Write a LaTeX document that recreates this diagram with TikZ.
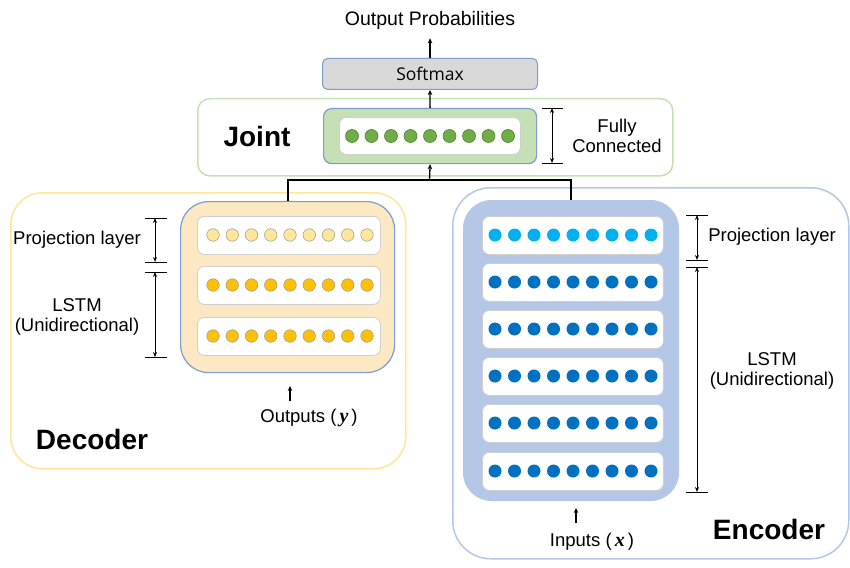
\documentclass[tikz,border=0pt]{standalone}
\usepackage{fontspec}
\setmainfont{Liberation Sans}
\newfontfamily\softfont{Open Sans}
\newfontfamily\varfont{Liberation Serif}
\usetikzlibrary{arrows.meta}
\definecolor{softfill}{HTML}{D9D9D9}
\definecolor{innerbd}{HTML}{7F9CCB}
\definecolor{jointbd}{HTML}{C5E0B4}
\definecolor{jointfill}{HTML}{C5E0B4}
\definecolor{greendot}{HTML}{70AD47}
\definecolor{greenbd}{HTML}{507E32}
\definecolor{decbd}{HTML}{FFE699}
\definecolor{decfill}{HTML}{FCE8C3}
\definecolor{declight}{HTML}{FFE699}
\definecolor{decdark}{HTML}{FFC000}
\definecolor{encbd}{HTML}{B4C7E7}
\definecolor{encfill}{HTML}{B4C7E7}
\definecolor{enclight}{HTML}{00B0F0}
\definecolor{encdark}{HTML}{0070C0}
\definecolor{rowbd}{HTML}{D0CECE}
\begin{document}
\begin{tikzpicture}[x=1pt,y=-1pt,
  font=\fontsize{18.5}{21.5}\selectfont,
  boxnw/.style={anchor=north west, inner sep=0pt},
  rowbox/.style={boxnw, draw=rowbd, fill=white, line width=0.8pt, rounded corners=7pt},
  dotnode/.style={circle, inner sep=0pt},
  arr/.style={line width=1.3pt, -{Stealth[length=5pt,width=4.5pt]}},
  dim/.style={line width=0.8pt, {Stealth[length=5pt,width=4pt]}-{Stealth[length=5pt,width=4pt]}},
  tick/.style={line width=0.8pt},
  lbl/.style={inner sep=0pt, align=center},
  big/.style={inner sep=0pt, font=\bfseries\fontsize{28}{32}\selectfont}]
\useasboundingbox (0,0) rectangle (850,567);

% ---- top ----
\node[lbl, font=\fontsize{19.5}{22}\selectfont] (outp) at (430,20) {Output Probabilities};
\node[boxnw, draw=innerbd, fill=softfill, line width=1pt, rounded corners=5pt,
  minimum width=215pt, minimum height=31pt, font=\softfont\fontsize{17.5}{20}\selectfont] (soft) at (322,58) {Softmax};

% ---- joint ----
\node[boxnw, draw=jointbd, line width=1.5pt, rounded corners=12pt, minimum width=475pt, minimum height=77pt] (jointbox) at (197,98) {};
\node[boxnw, draw=innerbd, fill=jointfill, line width=1.2pt, rounded corners=8pt, minimum width=213pt, minimum height=55pt] (jin) at (323,108) {};
\node[rowbox, minimum width=181pt, minimum height=37pt] (jrow) at (339,117) {};
\foreach \i in {0,...,8}
  \node[dotnode, fill=greendot, draw=greenbd, line width=0.6pt, minimum size=13pt] (jd\i) at ({352+19.5*\i},136) {};
\node[big] (jlabel) at (257,136) {Joint};
\node[lbl] (fc) at (617,136) {Fully\\[-1pt]Connected};
\draw[dim] (552,108) -- (552,163);
\draw[tick] (542,108) -- (563,108);
\draw[tick] (542,163) -- (563,163);

% ---- decoder ----
\node[boxnw, draw=decbd, line width=1.5pt, rounded corners=32pt, minimum width=395pt, minimum height=276pt] (decbox) at (10,192) {};
\node[boxnw, draw=innerbd, fill=decfill, line width=1.2pt, rounded corners=28pt, minimum width=214pt, minimum height=171pt] (dec) at (180,201) {};
\foreach \r/\y/\c in {1/216/declight,2/266/decdark,3/317/decdark}{
  \node[rowbox, minimum width=183pt, minimum height=38pt] (drow\r) at (197,\y) {};
  \foreach \i in {0,...,8}
    \node[dotnode, fill=\c, draw=gray!75, line width=0.6pt, minimum size=12.5pt] (dd\r-\i) at ({213+19.25*\i},{\y+19}) {};
}
\node[lbl] (dproj) at (77,240) {Projection layer};
\node[lbl] (dlstm) at (77,317) {LSTM\\[-1pt](Unidirectional)};
\draw[dim] (155,218) -- (155,262);
\draw[tick] (145,218) -- (167,218);
\draw[tick] (145,262) -- (167,262);
\draw[dim] (155,272) -- (155,357);
\draw[tick] (145,272) -- (167,272);
\draw[tick] (145,357) -- (167,357);
\node[lbl] (outy) at (309,418) {Outputs (\,{\varfont\fontsize{20}{22}\selectfont\bfseries\itshape y}\,)};
\coordinate (ytail) at (290,401);
\draw[line width=1.2pt, -{Stealth[length=5pt,width=4.5pt]}] (ytail) -- ++(0,-15);
\node[big] (declabel) at (92,439) {Decoder};

% ---- encoder ----
\node[boxnw, draw=encbd, line width=1.5pt, rounded corners=38pt, minimum width=396pt, minimum height=371pt] (encbox) at (452,187) {};
\node[boxnw, draw=encbd, fill=encfill, line width=1pt, rounded corners=28pt, minimum width=215pt, minimum height=300pt] (enc) at (463,200) {};
\foreach \r/\y in {1/216,2/263,3/310,4/357,5/404,6/452}{
  \ifnum\r=1 \def\dc{enclight}\else\def\dc{encdark}\fi
  \node[rowbox, minimum width=181pt, minimum height=38pt] (erow\r) at (482,\y) {};
  \foreach \i in {0,...,8}
    \node[dotnode, fill=\dc, minimum size=13pt] (ed\r-\i) at ({495+19.5*\i},{\y+19}) {};
}
\node[lbl] (eproj) at (772,237) {Projection layer};
\node[lbl] (elstm) at (772,371) {LSTM\\[-1pt](Unidirectional)};
\draw[dim] (697,215) -- (697,260);
\draw[tick] (686,215) -- (708,215);
\draw[tick] (686,260) -- (708,260);
\draw[dim] (697,267) -- (697,492);
\draw[tick] (686,267) -- (708,267);
\draw[tick] (686,492) -- (708,492);
\node[lbl] (inx) at (592,542) {Inputs (\,{\varfont\fontsize{20}{22}\selectfont\bfseries\itshape x}\,)};
\coordinate (xtail) at (576,523);
\draw[line width=1.2pt, -{Stealth[length=5pt,width=4.5pt]}] (xtail) -- ++(0,-15);
\node[big] (enclabel) at (769,529) {Encoder};

% ---- connectors ----
\coordinate (junc) at (429.5,180);
\draw[line width=1.8pt] (dec.north) |- (junc) -| (enc.north);
\draw[arr] (junc) -- (jin.south);
\draw[arr] (jin.north) -- (soft.south);
\draw[arr] (soft.north) -- ([yshift=-9pt]outp.south);
\end{tikzpicture}
\end{document}
